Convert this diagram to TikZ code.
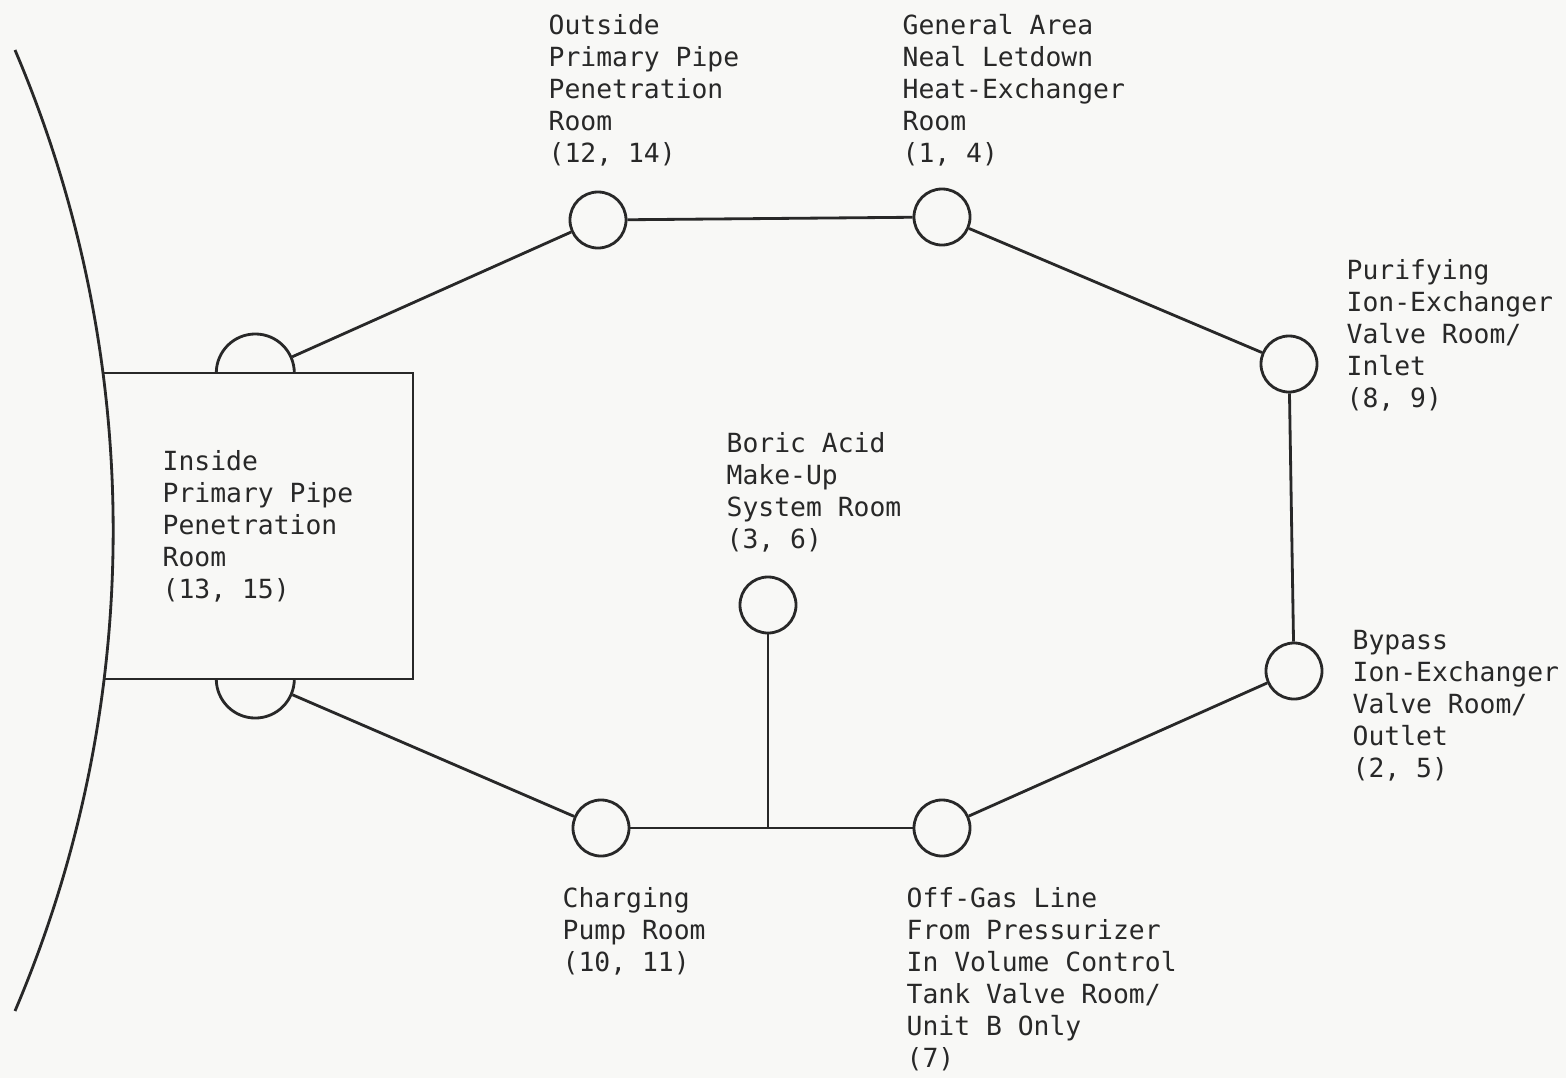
\documentclass[tikz,border=0pt]{standalone}
\usepackage{fontspec}
\setmonofont{DejaVu Sans Mono}
\definecolor{ink}{RGB}{40,40,40}
\definecolor{paper}{RGB}{248,248,246}
\begin{document}
\begin{tikzpicture}[x=0.01cm,y=-0.01cm,
  ln/.style={line width=0.8pt, draw=ink},
  room/.style={circle, draw=ink, line width=0.8pt, minimum size=0.56cm, inner sep=0pt},
  half/.style={circle, minimum size=0.78cm, inner sep=0pt},
  lbl/.style={anchor=north west, align=left, inner sep=0pt, text=ink,
    font=\ttfamily\fontsize{7.5}{9.1}\selectfont}]
\fill[paper] (0,0) rectangle (1566,1078);
\useasboundingbox (0,0) rectangle (1566,1078);

% containment wall and inside room box
\draw[ln] (15,50) arc[start angle=23.1, end angle=-23.1, radius=12.24cm];
\draw[ln] (102.9,373) -- (413,373) -- (413,679) -- (103.9,679);

% room nodes
\node[room] (out) at (598,220) {};
\node[room] (gen) at (942,217) {};
\node[room] (pur) at (1289,364) {};
\node[room] (byp) at (1294,671) {};
\node[room] (off) at (942,828) {};
\node[room] (chg) at (601,828) {};
\node[room] (bor) at (768,605) {};
\node[half] (ts) at (256,373) {};
\node[half] (bs) at (256,679) {};
\coordinate (tj) at (768,828);

\draw[ln] (ts.west) arc[start angle=180, end angle=0, radius=0.39cm];
\draw[ln] (bs.west) arc[start angle=180, end angle=360, radius=0.39cm];

% connectors
\draw[ln] (ts) -- (out);
\draw[ln] (out) -- (gen);
\draw[ln] (gen) -- (pur);
\draw[ln] (pur) -- (byp);
\draw[ln] (byp) -- (off);
\draw[ln] (off) -- (chg);
\draw[ln] (chg) -- (bs);
\draw[ln] (bor) -- (tj);

% labels
\node[lbl] (lout) at (548,14) {Outside\\Primary Pipe\\Penetration\\Room\\(12, 14)};
\node[lbl] (lgen) at (902,14) {General Area\\Neal Letdown\\Heat-Exchanger\\Room\\(1, 4)};
\node[lbl] (lpur) at (1346,259) {Purifying\\Ion-Exchanger\\Valve Room/\\Inlet\\(8, 9)};
\node[lbl] (lins) at (162,450) {Inside\\Primary Pipe\\Penetration\\Room\\(13, 15)};
\node[lbl] (lbor) at (726,432) {Boric Acid\\Make-Up\\System Room\\(3, 6)};
\node[lbl] (lbyp) at (1352,630) {Bypass\\Ion-Exchanger\\Valve Room/\\Outlet\\(2, 5)};
\node[lbl] (lchg) at (562,887) {Charging\\Pump Room\\(10, 11)};
\node[lbl] (loff) at (906,887) {Off-Gas Line\\From Pressurizer\\In Volume Control\\Tank Valve Room/\\Unit B Only\\(7)};
\end{tikzpicture}
\end{document}
